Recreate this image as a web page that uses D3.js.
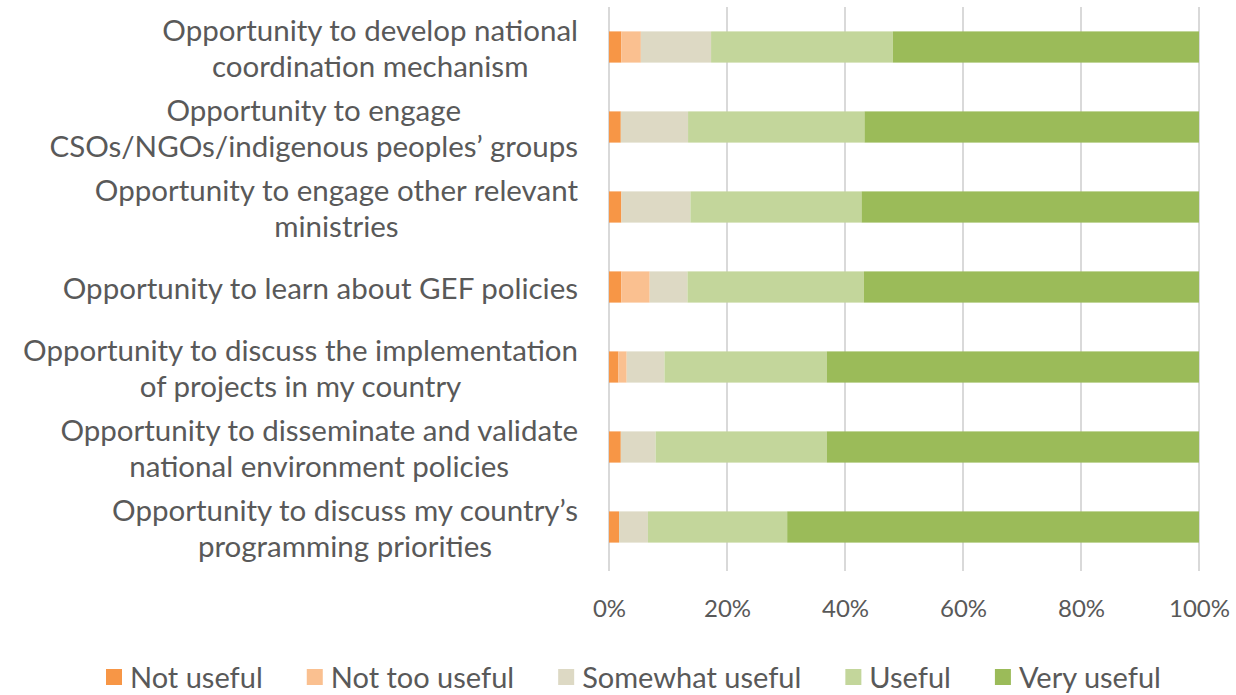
<!DOCTYPE html>
<html>
<head>
<meta charset="utf-8">
<script src="https://cdn.jsdelivr.net/npm/d3@7"></script>
<style>
  html, body { margin: 0; padding: 0; background: #fff; }
  svg { display: block; }
  text { font-family: Lato, "Open Sans", sans-serif; fill: #595959; }
</style>
</head>
<body>
<svg id="chart" width="1236" height="695"></svg>
<script>
const categories = [
  ["Opportunity to develop national", "coordination mechanism"],
  ["Opportunity to engage", "CSOs/NGOs/indigenous peoples\u2019 groups"],
  ["Opportunity to engage other relevant", "ministries"],
  ["Opportunity to learn about GEF policies"],
  ["Opportunity to discuss the implementation", "of projects in my country"],
  ["Opportunity to disseminate and validate", "national environment policies"],
  ["Opportunity to discuss my country\u2019s", "programming priorities"]
];
const seriesNames = ["Not useful", "Not too useful", "Somewhat useful", "Useful", "Very useful"];
const notUseful      = [2.1, 2.0, 2.1, 2.1, 1.6, 2.0, 1.7];
const notTooUseful   = [3.3, 0.0, 0.0, 4.8, 1.4, 0.0, 0.0];
const somewhatUseful = [11.9, 11.4, 11.7, 6.4, 6.4, 5.9, 4.9];
const useful         = [30.8, 29.9, 29.0, 29.9, 27.5, 29.0, 23.6];
const veryUseful     = [51.9, 56.7, 57.2, 56.8, 63.1, 63.1, 69.8];
const tickValues = [0, 20, 40, 60, 80, 100];
const tickLabels = ["0%", "20%", "40%", "60%", "80%", "100%"];

const colors = ["#F79646", "#FAC090", "#DDD9C4", "#C3D69B", "#9BBB59"];
const seriesValues = [notUseful, notTooUseful, somewhatUseful, useful, veryUseful];

const keys = categories.map((c, i) => "c" + i);
const table = categories.map((c, i) => {
  const row = { key: keys[i] };
  seriesNames.forEach((s, j) => row[s] = seriesValues[j][i]);
  return row;
});

const svg = d3.select("#chart");
const x = d3.scaleLinear().domain([0, 100]).range([609, 1199]);
const y = d3.scaleBand().domain(keys).range([7, 567]).paddingInner(0.61).paddingOuter(0.305);

const fontSize = 29.5;
const lineH = 36;

// gridlines
svg.append("g").selectAll("line").data(tickValues).join("line")
  .attr("x1", d => x(d)).attr("x2", d => x(d))
  .attr("y1", 7).attr("y2", 571)
  .attr("stroke", "#D9D9D9").attr("stroke-width", 2);

// tick labels via axis
const axis = d3.axisBottom(x).tickValues(tickValues).tickFormat((d, i) => tickLabels[i]).tickSize(0).tickPadding(0);
const ag = svg.append("g").attr("transform", "translate(0,600)").call(axis);
ag.select(".domain").remove();
ag.selectAll("text").attr("font-size", 24).attr("fill", "#595959")
  .style("font-family", "Lato, 'Open Sans', sans-serif").attr("dy", "0.71em");

// stacked bars
const stack = d3.stack().keys(seriesNames);
const stacked = stack(table);
svg.append("g").selectAll("g").data(stacked).join("g")
  .attr("fill", (d, i) => colors[i])
  .selectAll("rect").data(d => d).join("rect")
  .attr("x", d => x(d[0]))
  .attr("width", d => Math.max(0, x(d[1]) - x(d[0])))
  .attr("y", d => y(d.data.key))
  .attr("height", y.bandwidth());

// category labels
const lg = svg.append("g");
categories.forEach((lines, i) => {
  const cy = y(keys[i]) + y.bandwidth() / 2;
  const g = lg.append("g");
  const texts = lines.map((l, k) => g.append("text")
    .attr("font-size", fontSize)
    .attr("text-anchor", "middle")
    .attr("dominant-baseline", "central")
    .attr("y", cy + (k - (lines.length - 1) / 2) * lineH)
    .text(l));
  const maxW = d3.max(texts, t => t.node().getComputedTextLength());
  texts.forEach(t => t.attr("x", 578 - maxW / 2));
});

// legend
const legend = svg.append("g");
let lx = 106;
seriesNames.forEach((s, i) => {
  legend.append("rect").attr("x", lx).attr("y", 669).attr("width", 16).attr("height", 16).attr("fill", colors[i]);
  const t = legend.append("text").attr("x", lx + 24).attr("y", 676)
    .attr("font-size", 29).attr("dominant-baseline", "central").text(s);
  lx += 24 + t.node().getComputedTextLength() + 44;
});
</script>
</body>
</html>
